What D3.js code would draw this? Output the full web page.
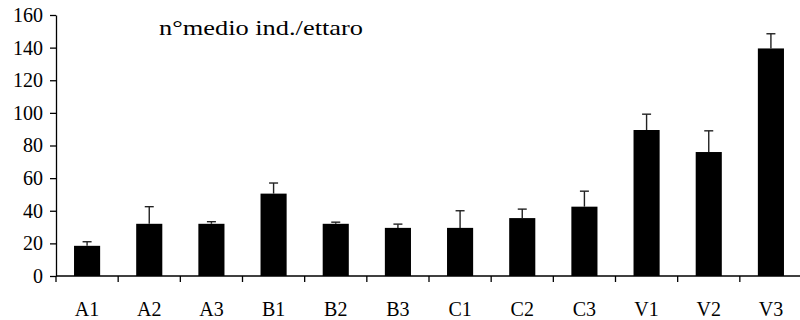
<!DOCTYPE html>
<html>
  <head>
    <title></title>
    <script src="https://cdnjs.cloudflare.com/ajax/libs/d3/7.8.5/d3.min.js"></script>
    <style>
      body { margin: 0; background: #fff; }
      text { font-family: "Liberation Serif", "Times New Roman", Tinos, "DejaVu Serif", serif; }
    </style>
  </head>
  <body>
    <script type="text/javascript">

    let categories = ["A1", "A2", "A3", "B1", "B2", "B3", "C1", "C2", "C3", "V1", "V2", "V3"]
    let means = [18.5, 32, 32, 50.5, 32, 29.5, 29.5, 35.5, 42.5, 89.5, 76, 139.5]
    let errTops = [21, 42.5, 33.3, 57, 33, 31.8, 40, 41, 52, 99.2, 89, 148.5]
    let yTicks = [0, 20, 40, 60, 80, 100, 120, 140, 160]
    let title = "n°medio ind./ettaro"

    let width = 800;
    let height = 320;

    let svg = d3.select("body").append("svg")
      .attr("width", width)
      .attr("height", height)

    let xScale = d3.scaleBand().domain(categories).range([56, 802]).paddingInner(0.58).paddingOuter(0.29);
    let band = d3.scaleBand().domain(categories).range([56, 802]);
    let yScale = d3.scaleLinear().domain([0, 160]).range([276, 15]);

    // bars
    svg.selectAll(".bar").data(categories).enter().append("rect")
      .attr("x", d => xScale(d))
      .attr("y", (d, i) => yScale(means[i]))
      .attr("width", xScale.bandwidth())
      .attr("height", (d, i) => yScale(0) - yScale(means[i]))
      .attr("fill", "#000");

    // error bars
    let eb = svg.selectAll(".err").data(categories).enter().append("g")
      .attr("stroke", "#222")
      .attr("stroke-width", 1.4);
    eb.append("line")
      .attr("x1", d => xScale(d) + xScale.bandwidth() / 2)
      .attr("x2", d => xScale(d) + xScale.bandwidth() / 2)
      .attr("y1", (d, i) => yScale(means[i]))
      .attr("y2", (d, i) => yScale(errTops[i]));
    eb.append("line")
      .attr("x1", d => xScale(d) + xScale.bandwidth() / 2 - 4.5)
      .attr("x2", d => xScale(d) + xScale.bandwidth() / 2 + 4.5)
      .attr("y1", (d, i) => yScale(errTops[i]))
      .attr("y2", (d, i) => yScale(errTops[i]));

    // y axis
    let yAxis = svg.append("g")
      .attr("transform", "translate(56,0)")
      .call(d3.axisLeft(yScale).tickValues(yTicks).tickSize(6).tickPadding(7).tickSizeOuter(0));
    yAxis.attr("font-family", null);
    yAxis.select(".domain").attr("stroke", "#000").attr("stroke-width", 1.3);
    yAxis.selectAll(".tick line").attr("stroke", "#000").attr("stroke-width", 1.3);
    yAxis.selectAll("text").attr("font-size", 20).attr("fill", "#000");

    // x axis: ticks at band boundaries
    let xAxis = svg.append("g").attr("transform", "translate(0,276)");
    xAxis.append("line")
      .attr("x1", 56).attr("x2", 802)
      .attr("stroke", "#000").attr("stroke-width", 1.3);
    xAxis.selectAll(".xt").data(categories).enter().append("line")
      .attr("x1", d => band(d)).attr("x2", d => band(d))
      .attr("y1", 0).attr("y2", 6)
      .attr("stroke", "#000").attr("stroke-width", 1.3);
    xAxis.selectAll(".xl").data(categories).enter().append("text")
      .attr("x", d => band(d) + band.bandwidth() / 2)
      .attr("y", 40)
      .attr("text-anchor", "middle")
      .attr("font-size", 20)
      .text(d => d);

    svg.append("text")
      .attr("x", 159)
      .attr("y", 35)
      .attr("font-size", 22)
      .attr("textLength", 204)
      .attr("lengthAdjust", "spacingAndGlyphs")
      .text(title);

    </script>
  </body>
</html>
